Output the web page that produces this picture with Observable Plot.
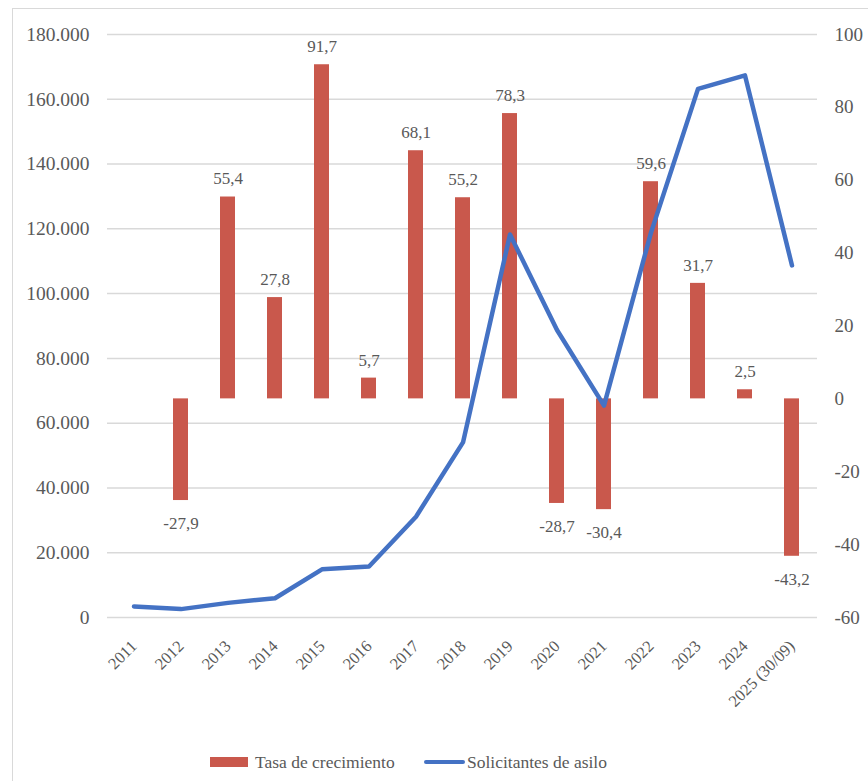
<!DOCTYPE html>
<html><head><meta charset="utf-8">
<script src="https://cdn.jsdelivr.net/npm/d3@7"></script>
<script src="https://cdn.jsdelivr.net/npm/@observablehq/plot@0.6"></script>
<style>
body{margin:0;background:#fff;}
#wrap{position:relative;width:868px;height:781px;overflow:hidden;background:#fff;}
#frame{position:absolute;left:12px;top:8px;width:900px;height:800px;border:1.5px solid #d9d9d9;box-sizing:border-box;}
#chart{position:absolute;left:0;top:0;}
.leg{position:absolute;top:750px;font-size:17.5px;color:#595959;line-height:24px;white-space:nowrap;font-family:'Liberation Serif';}
.sw{position:absolute;}
</style></head>
<body>
<div id="wrap">
  <div id="frame"></div>
  <div id="chart"></div>
  <div class="sw" style="left:210px;top:757px;width:38px;height:10px;background:#c9584c;"></div>
  <div class="leg" style="left:255px;">Tasa de crecimiento</div>
  <div class="sw" style="left:424px;top:760px;width:41px;height:4px;background:#4472c4;border-radius:2px;"></div>
  <div class="leg" style="left:467px;">Solicitantes de asilo</div>
</div>
<script>
const years = ["2011","2012","2013","2014","2015","2016","2017","2018","2019","2020","2021","2022","2023","2024","2025 (30/09)"];
const solicitantes = [3414, 2588, 4513, 5952, 14881, 15755, 31120, 54065, 118264, 88762, 65404, 118842, 163218, 167366, 108700];
const tasa = [null, -27.9, 55.4, 27.8, 91.7, 5.7, 68.1, 55.2, 78.3, -28.7, -30.4, 59.6, 31.7, 2.5, -43.2];
const leftTicks = [0, 20000, 40000, 60000, 80000, 100000, 120000, 140000, 160000, 180000];
const rightTicks = [-60, -40, -20, 0, 20, 40, 60, 80, 100];

const leftMax = 180000, rightMin = -60, rightMax = 100;
const toLeft = r => (r - rightMin) / (rightMax - rightMin) * leftMax;
const fromLeft = v => Math.round(v / leftMax * (rightMax - rightMin) + rightMin);

const es = d3.formatLocale({decimal: ",", thousands: ".", grouping: [3], currency: ["", "€"]});
const fmtLeft = es.format(",");
const fmtRate = v => v.toFixed(1).replace(".", ",");

const lineData = years.map((y, i) => ({year: y, v: solicitantes[i]}));
const barData = years.map((y, i) => ({year: y, v: tasa[i]})).filter(d => d.v != null);

const FONT = "Liberation Serif";
const plot = Plot.plot({
  width: 868, height: 720,
  marginLeft: 107, marginRight: 51, marginTop: 34, marginBottom: 103,
  style: `font-family: 'Liberation Serif'; font-size: 18px; color: #595959; background: transparent;`,
  x: {type: "band", domain: years, padding: 0, label: null},
  y: {domain: [0, leftMax], label: null},
  marks: [
    Plot.gridY(leftTicks, {stroke: "#d9d9d9", strokeOpacity: 1, strokeWidth: 1.5}),
    Plot.axisY(leftTicks, {anchor: "left", tickSize: 0, tickPadding: 18, tickFormat: fmtLeft, fontSize: 19.5, fill: "#595959", label: null}),
    Plot.axisY(rightTicks.map(toLeft), {anchor: "right", tickSize: 0, tickPadding: 17, tickFormat: fromLeft, fontSize: 19, fill: "#595959", label: null}),
    Plot.axisX({tickRotate: -45, tickSize: 0, tickPadding: 26, fontSize: 16.5, fill: "#595959", label: null}),
    Plot.barY(barData, {x: "year", y1: () => toLeft(0), y2: d => toLeft(d.v), fill: "#c9584c", insetLeft: 16, insetRight: 16}),
    Plot.text(barData.filter(d => d.v >= 0), {x: "year", y: d => toLeft(d.v), text: d => fmtRate(d.v), dy: -18, fontSize: 17, fill: "#595959"}),
    Plot.text(barData.filter(d => d.v < 0), {x: "year", y: d => toLeft(d.v), text: d => fmtRate(d.v), dy: 23, fontSize: 17, fill: "#595959"}),
    Plot.lineY(lineData, {x: "year", y: "v", stroke: "#4472c4", strokeWidth: 4.5, strokeLinejoin: "round", strokeLinecap: "round"})
  ]
});
plot.setAttribute("font-family", FONT);
plot.querySelectorAll("g, text").forEach(t => { t.setAttribute("font-family", FONT); t.style.fontFamily = "'Liberation Serif'"; });
document.getElementById("chart").appendChild(plot);
</script>
</body></html>
